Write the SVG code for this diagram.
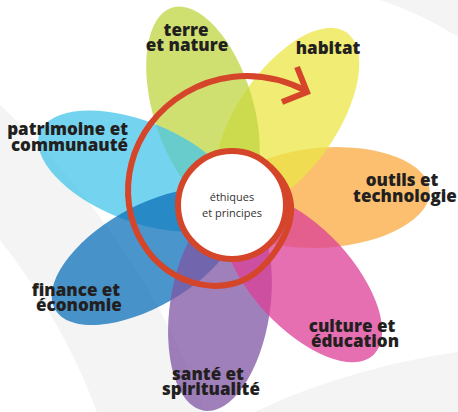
<svg xmlns="http://www.w3.org/2000/svg" width="458" height="412" viewBox="0 0 458 412">
<style>
.bg{fill:#f4f4f4}
.petal{fill-opacity:0.75}
.lbl{font-family:"Open Sans","Liberation Sans",sans-serif;font-weight:800;font-size:17px;fill:#231f20;text-anchor:middle}
.ctr{font-family:"Open Sans","Liberation Sans",sans-serif;font-size:11px;fill:#333;text-anchor:middle}
.red{fill:none;stroke:#d5452a;stroke-width:6}
</style>
<rect width="458" height="412" fill="#fff"/>
<g id="background">
<path class="bg" d="M0,105 C70,170 160,280 205,412 L97,412 C70,340 35,285 0,240 Z"/>
<path class="bg" d="M380,0 C410,10 440,25 458,37 L458,0 Z"/>
<path class="bg" d="M255,412 C320,380 400,360 458,352 L458,412 Z"/>
</g>
<g id="petals">
<g id="outils"><ellipse class="petal" cx="325" cy="197.5" rx="105" ry="50" fill="#faaa3f" transform="rotate(-4 325 197.5)"/></g>
<g id="habitat"><ellipse class="petal" cx="287" cy="119" rx="105" ry="50" fill="#ebe646" transform="rotate(-55.6 287 119)"/></g>
<g id="terre"><ellipse class="petal" cx="203" cy="108" rx="105" ry="50" fill="#bfd640" transform="rotate(73 203 108)"/></g>
<g id="patrimoine"><ellipse class="petal" cx="137.5" cy="171" rx="105" ry="50" fill="#46c6eb" transform="rotate(21.6 137.5 171)"/></g>
<g id="finance"><ellipse class="petal" cx="146" cy="257" rx="105" ry="50" fill="#0e72ba" transform="rotate(-30 146 257)"/></g>
<g id="sante"><ellipse class="petal" cx="220" cy="307" rx="105" ry="50" fill="#7f56a4" transform="rotate(98.7 220 307)"/></g>
<g id="culture"><ellipse class="petal" cx="302" cy="278" rx="105" ry="50" fill="#dc3f97" transform="rotate(47.3 302 278)"/></g>
</g>
<g id="connectors">
<path class="red" d="M306.07,90.94 C282.72,78.96 256.58,74.04 232,77 C198.49,81.03 169.03,99.45 150.68,123.68 C132.33,147.91 125.18,178.03 129,205 C132.82,231.97 147.09,255.85 166.95,270.05 C186.81,284.25 211.32,288.84 232,284 C252.68,279.16 267.24,263.56 276.55,249.55 C285.86,235.54 292.49,220.45 291,205 C289.51,189.55 280.55,176.45 270.18,166.82"/>
<polyline class="red" points="297,67 307,92 282,102" stroke-linejoin="miter" stroke-miterlimit="10"/>
</g>
<g id="centre">
<circle cx="232" cy="205" r="54" fill="#fff" stroke="#d5452a" stroke-width="6"/>
<text class="ctr" x="232" y="201">éthiques</text>
<text class="ctr" x="232" y="217">et principes</text>
</g>
<g id="labels">
<g id="lbl-terre"><text class="lbl" x="186" y="36">terre</text><text class="lbl" x="187" y="51">et nature</text></g>
<g id="lbl-habitat"><text class="lbl" x="328" y="54">habitat</text></g>
<g id="lbl-patrimoine"><text class="lbl" x="128" y="135" style="text-anchor:end">patrimoine et</text><text class="lbl" x="128" y="151" style="text-anchor:end">communauté</text></g>
<g id="lbl-outils"><text class="lbl" x="402" y="186">outils et</text><text class="lbl" x="405" y="202">technologie</text></g>
<g id="lbl-finance"><text class="lbl" x="76" y="296">finance et</text><text class="lbl" x="79" y="311">économie</text></g>
<g id="lbl-culture"><text class="lbl" x="352" y="332">culture et</text><text class="lbl" x="355" y="347">éducation</text></g>
<g id="lbl-sante"><text class="lbl" x="208" y="380">santé et</text><text class="lbl" x="211" y="395">spiritualité</text></g>
</g>
</svg>
